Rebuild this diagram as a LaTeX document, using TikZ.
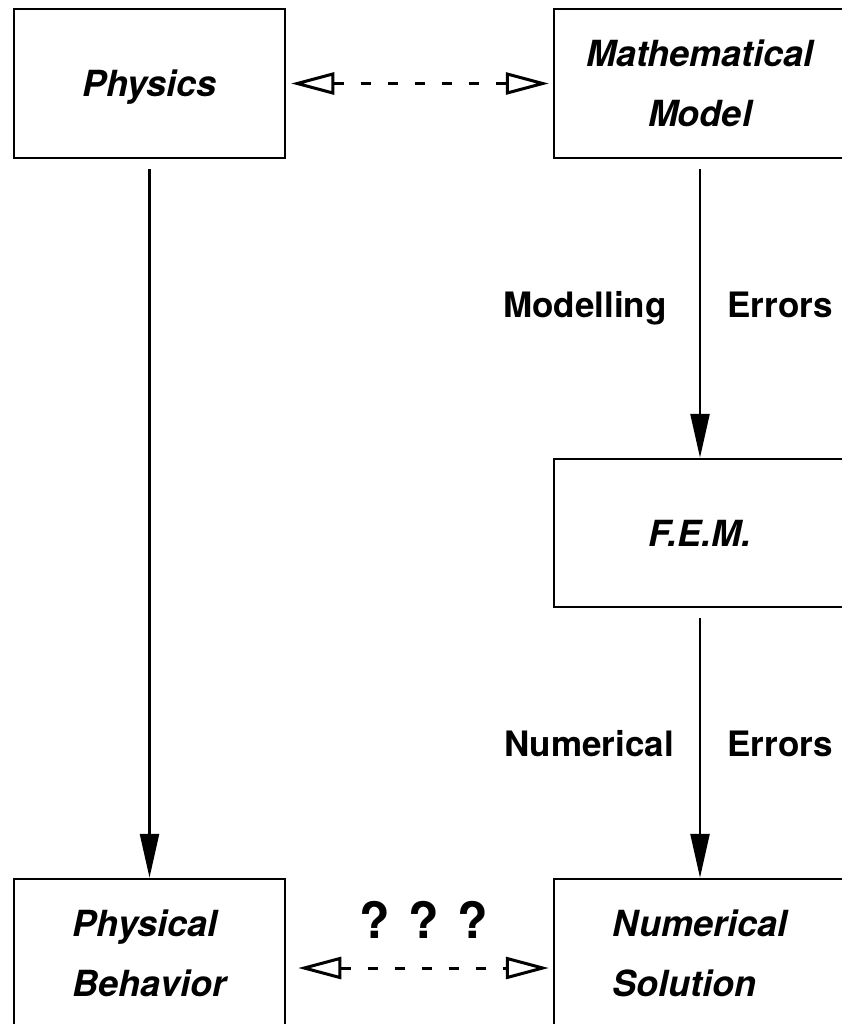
\documentclass[tikz,border=0pt]{standalone}
\usepackage{fontspec}
\setmainfont{TeX Gyre Heros}
\usepackage{tikz}
\usetikzlibrary{arrows.meta,positioning}
\tikzset{
  box/.style={
    draw=black,
    line width=2.5pt,
    fill=white,
    align=center,
    inner sep=0pt,
    text depth=0pt,
    font=\fontsize{36}{60}\selectfont\bfseries\itshape
  },
  flow/.style={-{Triangle[length=44pt,width=19pt]}, line width=2.5pt, shorten <=10pt},
  link/.style={
    {Triangle[open,length=43pt,width=22pt]}-{Triangle[open,length=43pt,width=22pt]},
    line width=3pt, dash pattern=on 10pt off 17pt
  },
  errlabel/.style={font=\fontsize{35}{42}\selectfont\bfseries, inner sep=0pt}
}
\begin{document}
\begin{tikzpicture}[x=1pt,y=-1pt]
  \useasboundingbox (0,0) rectangle (841,1024);
  % left column
  \node[box,minimum width=271pt,minimum height=149pt] (physics) at (149.5,83.5) {Physics};
  \node[box,minimum width=271pt,minimum height=149pt,align=left] (behavior) at (149.5,953.5) {Physical\\Behavior};
  % right column
  \node[box,minimum width=292pt,minimum height=149pt] (mathmodel) at (700,83.5) {Mathematical\\Model};
  \node[box,minimum width=292pt,minimum height=148pt] (fem) at (700,533) {F.E.M.};
  \node[box,minimum width=292pt,minimum height=149pt,align=left] (solution) at (700,953.5) {Numerical\\Solution};
  % arrows
  \draw[flow] (physics) -- (behavior);
  \draw[flow] (mathmodel) -- (fem);
  \draw[flow] (fem) -- (solution);
  \draw[link,shorten <=5pt,shorten >=4pt] (physics) -- (mathmodel);
  \draw[link,shorten <=12pt,shorten >=4pt] ([yshift=-14.5pt]behavior.east) -- ([yshift=-14.5pt]solution.west);
  % labels
  \node[errlabel,anchor=base] (modelling) at (585,317) {Modelling};
  \node[errlabel,anchor=base east] (errors1) at (833,317) {Errors};
  \node[errlabel,anchor=base] (numerical) at (589,756) {Numerical};
  \node[errlabel,anchor=base east] (errors2) at (833,756) {Errors};
  \node[errlabel,font=\fontsize{50}{50}\selectfont\bfseries,anchor=base] (unknown) at (424,938) {? ? ?};
\end{tikzpicture}
\end{document}
